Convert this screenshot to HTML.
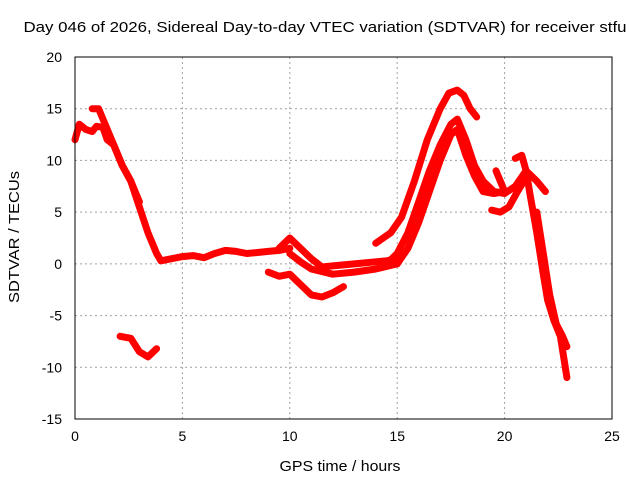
<!DOCTYPE html>
<html><head><meta charset="utf-8"><style>
body{margin:0;background:#fff;}
svg{display:block;font-family:"Liberation Sans",sans-serif;}
</style></head><body>
<svg id="chart" width="640" height="480" viewBox="0 0 640 480">
<text x="325" y="32" font-size="15" text-anchor="middle" textLength="603" lengthAdjust="spacingAndGlyphs">Day 046 of 2026, Sidereal Day-to-day VTEC variation (SDTVAR) for receiver stfu</text>
<text x="340" y="471" font-size="15" text-anchor="middle" textLength="121" lengthAdjust="spacingAndGlyphs">GPS time / hours</text>
<text transform="translate(19,237) rotate(-90)" font-size="15" text-anchor="middle" textLength="132" lengthAdjust="spacingAndGlyphs">SDTVAR / TECUs</text>
<g id="grid"></g><g id="ticks"></g><g id="series"></g>
<rect x="75" y="57" width="537" height="362" fill="none" stroke="#000" stroke-width="1"/>
</svg>
<script>
const xTicks=[0,5,10,15,20,25];
const yTicks=[-15,-10,-5,0,5,10,15,20];
const segHours=[
[0,0.2,0.5,0.8,1.0,1.3,1.5,1.8,2.2,2.6,3.0,3.4,3.8,4.0,4.5,5,5.5,6,6.5,7,7.5,8,8.5,9,9.5,10],
[0.8,1.1,1.4,1.8,2.2,2.6,3.0],
[9.5,10,10.5,11,11.5,12,13,14,14.5,15],
[9.0,9.5,10,10.5,11,11.5,12,12.5],
[10,10.5,11,12,13,14,15],
[2.1,2.6,3.0,3.4,3.8],
[14,14.7,15.2,15.8,16.4,17,17.4,17.8,18.1,18.4,18.7],
[14.5,15,15.5,16,16.5,17,17.5,17.8,18.2,18.6,19,19.5,20,20.5,21,21.5,21.9],
[15,15.5,16,16.5,17,17.5,17.8,18.2,18.6,19,19.5,20],
[19.4,19.8,20.2,20.6,20.9],
[19.6,19.8,20],
[20.5,20.8,21,21.2,21.5,21.8,22,22.3,22.6,22.9],
[21.5,21.8,22.1,22.4,22.7,22.9]
];
const segValues=[
[12,13.5,13,12.8,13.3,13.2,12,11.5,9.5,8,5.5,3,1,0.3,0.5,0.7,0.8,0.6,1,1.3,1.2,1.0,1.1,1.2,1.3,1.5],
[15,15,13.5,11.5,9.5,8,6],
[1.5,2.5,1.5,0.5,-0.3,-0.2,0,0.2,0.3,0.5],
[-0.8,-1.2,-1.0,-2,-3,-3.2,-2.8,-2.2],
[1.0,0.2,-0.5,-1,-0.8,-0.5,0],
[-7,-7.2,-8.5,-9,-8.2],
[2,3,4.5,8,12,15,16.5,16.8,16.3,15,14.2],
[0,1,3,6,9,11.5,13.5,14,12,9.5,8,7,6.8,7.5,9,8,7],
[0,1.5,4,7,10,12.5,13,10.5,8.5,7,6.8,7],
[5.2,5,5.5,7,8],
[9,8,7],
[10.2,10.5,9,6.5,3,-1,-3.5,-5.5,-7,-11],
[5,1,-3,-5.8,-7,-8]
];
const X=h=>75+h*(537/25);
const Y=v=>57+(20-v)*(362/35);
const NS="http://www.w3.org/2000/svg";
const grid=document.getElementById('grid'),ticks=document.getElementById('ticks'),ser=document.getElementById('series');
function mk(tag,attrs,parent){const e=document.createElementNS(NS,tag);for(const k in attrs)e.setAttribute(k,attrs[k]);parent.appendChild(e);return e;}
xTicks.forEach(t=>{
 if(t>0&&t<25){const g=mk('line',{x1:X(t),x2:X(t),y1:57,y2:419,stroke:'#a0a0a0','stroke-dasharray':'2,3'},grid);
 
 }
 const l=mk('text',{x:X(t),y:441,'font-size':14,'text-anchor':'middle'},ticks);l.textContent=t;
 
 
});
yTicks.forEach(t=>{
 if(t>-15&&t<20){const g=mk('line',{x1:75,x2:612,y1:Y(t),y2:Y(t),stroke:'#a0a0a0','stroke-dasharray':'2,3'},grid);
 
 }
 const l=mk('text',{x:62,y:Y(t)+5,'font-size':14,'text-anchor':'end'},ticks);l.textContent=t;
 
 
});
segHours.forEach((hs,i)=>{
 const pts=hs.map((h,j)=>X(h).toFixed(1)+','+Y(segValues[i][j]).toFixed(1)).join(' ');
 const p=mk('polyline',{points:pts,fill:'none',stroke:'#ff0000','stroke-width':7,'stroke-linejoin':'round','stroke-linecap':'round'},ser);
 
 
});
</script>
</body></html>
